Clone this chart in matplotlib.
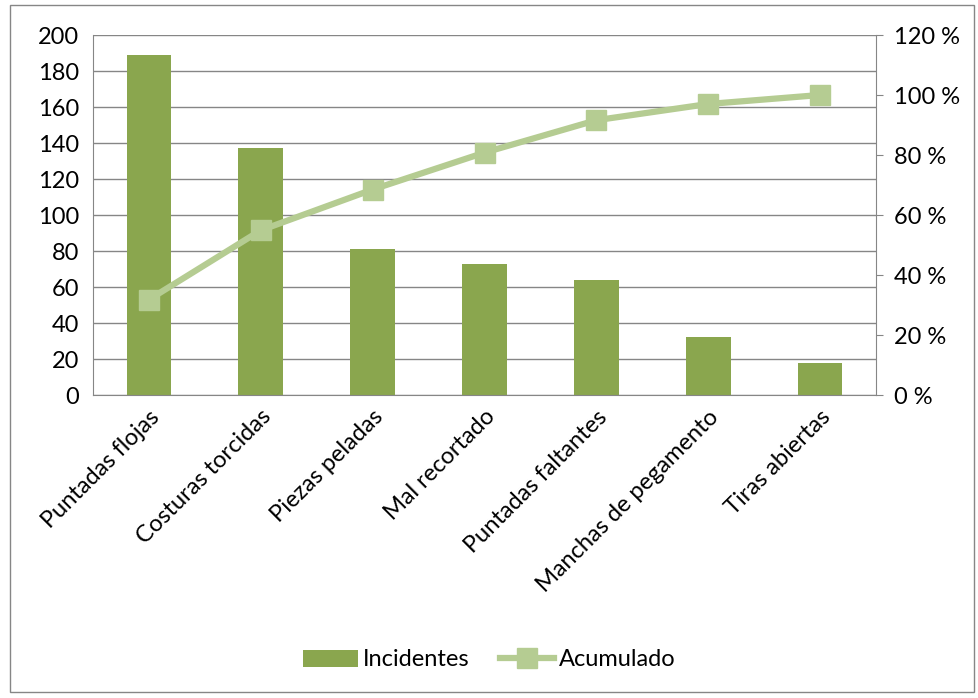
import matplotlib.pyplot as plt
from matplotlib.ticker import FuncFormatter
from matplotlib.patches import Rectangle

plt.rcParams['font.family'] = ['Lato', 'DejaVu Sans']

# Defect categories (Pareto order)
categorias = [
    "Puntadas flojas",
    "Costuras torcidas",
    "Piezas peladas",
    "Mal recortado",
    "Puntadas faltantes",
    "Manchas de pegamento",
    "Tiras abiertas",
]
incidentes = [189, 137, 81, 73, 64, 32, 18]
acumulado = [31.8, 54.9, 68.5, 80.8, 91.6, 97.0, 100.0]  # %

bar_color = '#8AA64E'
line_color = '#B5CC92'
grid_color = '#868686'
fs = 17

fig = plt.figure(figsize=(9.79, 6.98), dpi=100)
ax = fig.add_axes([93 / 979, 1 - 395 / 698, 783 / 979, 360 / 698])
ax2 = ax.twinx()

x = range(len(categorias))
b = ax.bar(x, incidentes, width=0.4, color=bar_color, zorder=2, label='Incidentes')
l, = ax2.plot(x, acumulado, color=line_color, linewidth=4.5, marker='s',
              markersize=14, zorder=3, label='Acumulado')

ax.set_xlim(-0.5, len(categorias) - 0.5)
ax.set_ylim(0, 200)
ax.set_yticks(range(0, 201, 20))
ax2.set_ylim(0, 120)
ax2.set_yticks(range(0, 121, 20))
ax2.yaxis.set_major_formatter(FuncFormatter(lambda v, p: f"{int(v)} %"))

ax.yaxis.grid(True, color=grid_color, linewidth=1)
ax.set_axisbelow(True)
ax2.set_zorder(ax.get_zorder() + 1)
ax2.patch.set_visible(False)

for a in (ax, ax2):
    for s in a.spines.values():
        s.set_color(grid_color)
    a.spines['top'].set_visible(False)
ax.spines['right'].set_visible(False)
ax2.spines['left'].set_visible(False)
ax2.spines['bottom'].set_visible(False)

ax.set_xticks(list(x))
ax.set_xticklabels(categorias, rotation=45, ha='right', rotation_mode='anchor', fontsize=fs)
ax.tick_params(axis='x', length=0, pad=8)
ax.tick_params(axis='y', length=0, labelsize=fs, pad=10)
ax2.tick_params(axis='y', length=5, color=grid_color, labelsize=fs, pad=8, direction='out')

fig.legend([b, l], ['Incidentes', 'Acumulado'], loc='center', bbox_to_anchor=(0.5, 1 - 660 / 698),
           ncol=2, frameon=False, fontsize=fs, handlelength=2.3, handletextpad=0.2,
           columnspacing=1.3)

fig.patches.append(Rectangle((10 / 979, 1 - 692 / 698), 964 / 979, 687 / 698,
                             transform=fig.transFigure, fill=False,
                             edgecolor=grid_color, linewidth=1))

fig.savefig('out.png', dpi=100)
